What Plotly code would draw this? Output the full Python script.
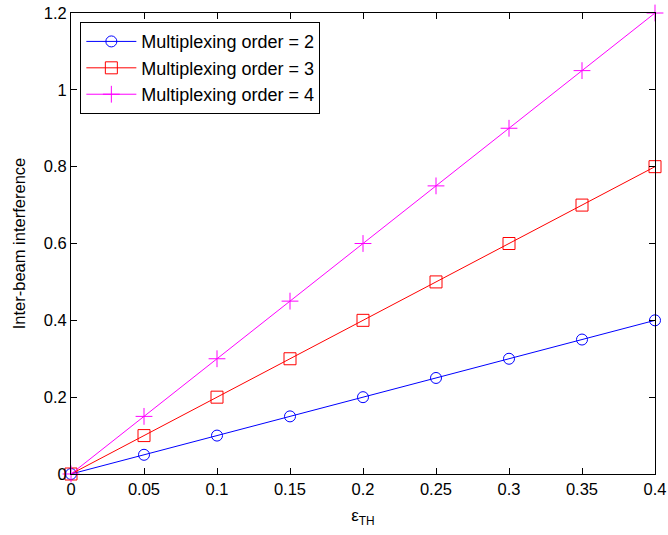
import plotly.graph_objects as go

eps = [0, 0.05, 0.1, 0.15, 0.2, 0.25, 0.3, 0.35, 0.4]
order2 = [0, 0.05, 0.1, 0.15, 0.2, 0.25, 0.3, 0.35, 0.4]
order3 = [0, 0.1, 0.2, 0.3, 0.4, 0.5, 0.6, 0.7, 0.8]
order4 = [0, 0.15, 0.3, 0.45, 0.6, 0.75, 0.9, 1.05, 1.2]
names = ["Multiplexing order = 2", "Multiplexing order = 3", "Multiplexing order = 4"]
xticks = [0, 0.05, 0.1, 0.15, 0.2, 0.25, 0.3, 0.35, 0.4]
xticklabels = ["0", "0.05", "0.1", "0.15", "0.2", "0.25", "0.3", "0.35", "0.4"]
yticks = [0, 0.2, 0.4, 0.6, 0.8, 1.0, 1.2]
yticklabels = ["0", "0.2", "0.4", "0.6", "0.8", "1", "1.2"]

FONT = "Liberation Sans, Arial, sans-serif"

fig = go.Figure()
styles = [
    ("#0000ff", "circle-open", 11),
    ("#ff0000", "square-open", 12),
    ("#ff00ff", "cross-thin-open", 12),
]
for ys, name, (c, sym, sz) in zip([order2, order3, order4], names, styles):
    fig.add_trace(go.Scatter(
        x=eps, y=ys, name=name, mode="lines+markers",
        line=dict(color=c, width=1),
        marker=dict(symbol=sym, size=sz, color=c, line=dict(color=c, width=1)),
        cliponaxis=False,
    ))

axis_common = dict(
    showgrid=False, zeroline=False, showline=True, linecolor="black", linewidth=1,
    mirror="ticks", ticks="inside", ticklen=6, tickcolor="black", automargin=False,
    tickfont=dict(family=FONT, size=16.5, color="black"),
)
fig.update_xaxes(range=[0, 0.4], tickvals=xticks, ticktext=xticklabels,
                 title=dict(text="ε<sub>TH</sub>", font=dict(family=FONT, size=17, color="black"), standoff=12),
                 **axis_common)
fig.update_yaxes(range=[0, 1.2], tickvals=yticks, ticktext=yticklabels,
                 title=dict(text="Inter-beam interference", font=dict(family=FONT, size=16.5, color="black"), standoff=13),
                 **axis_common)

fig.update_layout(
    width=668, height=535,
    margin=dict(l=71, r=13, t=13, b=61),
    paper_bgcolor="white", plot_bgcolor="white",
    showlegend=True,
    legend=dict(x=0.016, y=0.98, xanchor="left", yanchor="top",
                bgcolor="white", bordercolor="black", borderwidth=1,
                font=dict(family=FONT, size=18, color="black"),
                tracegroupgap=0, itemwidth=50),
)
fig.write_html("out.html", config={"displayModeBar": False},
               post_script="document.body.style.margin='0';document.body.style.overflow='hidden';")
